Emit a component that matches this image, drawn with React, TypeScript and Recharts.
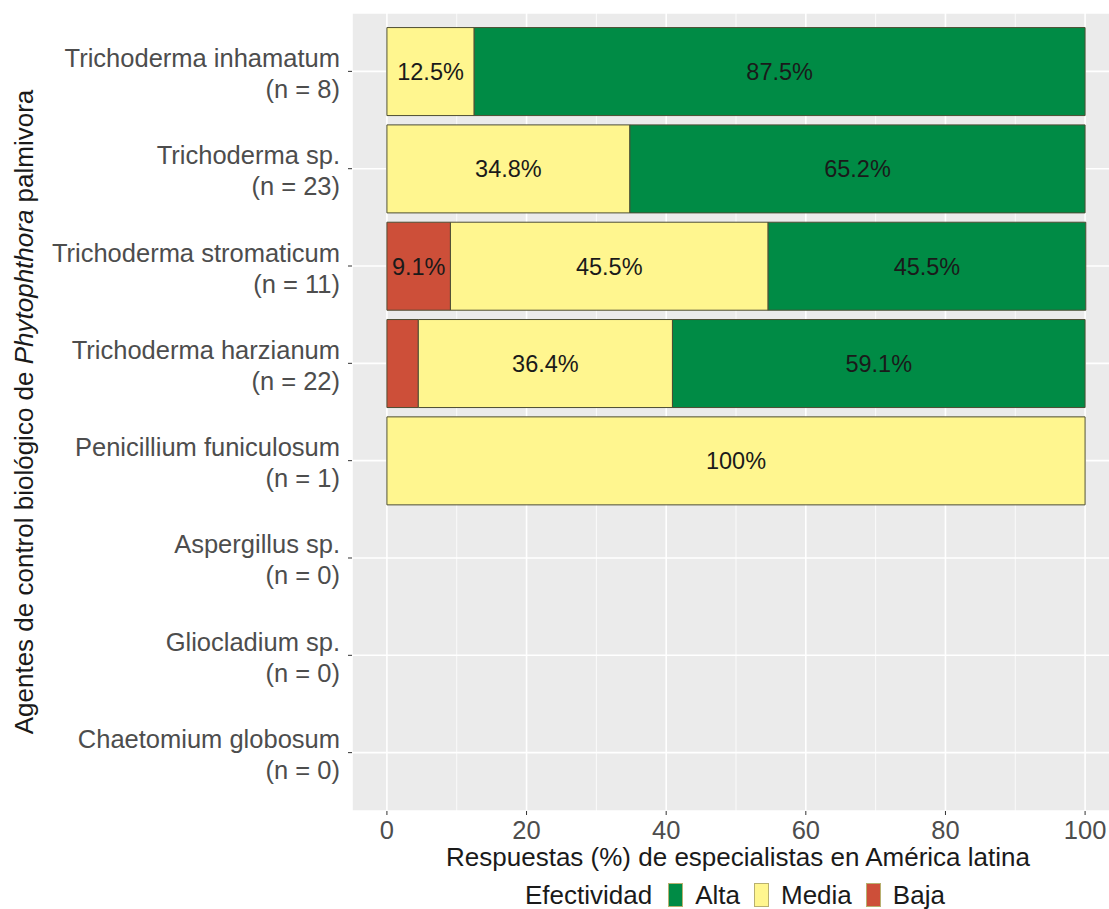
import { BarChart, Bar, XAxis, YAxis, CartesianGrid, LabelList } from "recharts"

const agents = [
  "Trichoderma inhamatum",
  "Trichoderma sp.",
  "Trichoderma stromaticum",
  "Trichoderma harzianum",
  "Penicillium funiculosum",
  "Aspergillus sp.",
  "Gliocladium sp.",
  "Chaetomium globosum",
]
const counts = [8, 23, 11, 22, 1, 0, 0, 0]
const baja = [0, 0, 9.1, 4.5, 0, 0, 0, 0]
const media = [12.5, 34.8, 45.5, 36.4, 100, 0, 0, 0]
const alta = [87.5, 65.2, 45.5, 59.1, 0, 0, 0, 0]
const xTicks = [0, 20, 40, 60, 80, 100]
const minorTicks = [10, 30, 50, 70, 90]

const levels = [
  { key: "Alta", color: "#008B45" },
  { key: "Media", color: "#FFF68F" },
  { key: "Baja", color: "#CD4F39" },
]

const data = agents.map((name, i) => ({
  name,
  n: counts[i],
  Baja: baja[i],
  Media: media[i],
  Alta: alta[i],
}))

const FONT = '"Liberation Sans", Arial, sans-serif'

function AgentTick(props: any) {
  const { x, y, payload, index } = props
  return (
    <g>
      <text x={x} y={y - 4.5} textAnchor="end" fontSize={25.5} fill="#4D4D4D" fontFamily={FONT}>
        {payload.value}
      </text>
      <text x={x} y={y + 26.5} textAnchor="end" fontSize={25.5} fill="#4D4D4D" fontFamily={FONT}>
        {`(n = ${counts[index]})`}
      </text>
    </g>
  )
}

const pct = (v: any) => (v > 5 ? `${v}%` : "")

export default function App() {
  return (
    <div
      style={{
        position: "fixed",
        left: 0,
        top: 0,
        width: 1109,
        height: 909,
        overflow: "hidden",
        background: "#fff",
        fontFamily: FONT,
      }}
    >
      <BarChart
        width={1130}
        height={909}
        data={data}
        layout="vertical"
        barCategoryGap="5%"
        margin={{ top: 13, right: 10, left: 0, bottom: 58 }}
      >
        <CartesianGrid fill="#EBEBEB" stroke="#FFFFFF" strokeWidth={1.6} />
        <CartesianGrid
          horizontal={false}
          verticalValues={minorTicks}
          stroke="#FFFFFF"
          strokeWidth={0.8}
          fill="none"
        />
        <XAxis
          type="number"
          domain={[-5, 105]}
          ticks={xTicks}
          allowDataOverflow
          height={40}
          axisLine={false}
          tickSize={4}
          tickLine={{ stroke: "#333333" }}
          tick={{ fontSize: 25.5, fill: "#4D4D4D", fontFamily: FONT, dy: 4 }}
          label={{
            content: (p: any) => {
              const vb = p.viewBox
              return (
                <text
                  x={vb.x + vb.width / 2 + 2}
                  y={vb.y + vb.height + 15}
                  textAnchor="middle"
                  fontSize={26}
                  fill="#1A1A1A"
                  fontFamily={FONT}
                >
                  Respuestas (%) de especialistas en América latina
                </text>
              )
            },
          }}
        />
        <YAxis
          type="category"
          dataKey="name"
          width={352}
          padding={{ top: 9.7, bottom: 9.7 }}
          axisLine={false}
          tickSize={4}
          tickMargin={8}
          tickLine={{ stroke: "#333333" }}
          tick={<AgentTick />}
          label={{
            content: () => (
              <text
                x={33}
                y={412}
                textAnchor="middle"
                fontSize={26}
                fill="#1A1A1A"
                fontFamily={FONT}
                transform="rotate(-90, 33, 412)"
              >
                Agentes de control biológico de <tspan fontStyle="italic">Phytophthora</tspan> palmivora
              </text>
            ),
          }}
        />
        <Bar dataKey="Baja" stackId="a" fill="#CD4F39" stroke="#4D4D33" strokeWidth={1} isAnimationActive={false}>
          <LabelList dataKey="Baja" position="center" formatter={pct} fontSize={23.5} fill="#1A1A1A" fontFamily={FONT} />
        </Bar>
        <Bar dataKey="Media" stackId="a" fill="#FFF68F" stroke="#4D4D33" strokeWidth={1} isAnimationActive={false}>
          <LabelList dataKey="Media" position="center" formatter={pct} fontSize={23.5} fill="#1A1A1A" fontFamily={FONT} />
        </Bar>
        <Bar dataKey="Alta" stackId="a" fill="#008B45" stroke="#4D4D33" strokeWidth={1} isAnimationActive={false}>
          <LabelList dataKey="Alta" position="center" formatter={pct} fontSize={23.5} fill="#1A1A1A" fontFamily={FONT} />
        </Bar>
      </BarChart>
      <div
        style={{
          position: "absolute",
          left: 525,
          top: 880,
          display: "flex",
          alignItems: "flex-start",
          fontSize: 26,
          color: "#1A1A1A",
          lineHeight: "30px",
          whiteSpace: "nowrap",
        }}
      >
        <span style={{ marginRight: 16 }}>Efectividad</span>
        {levels.map((l) => (
          <span key={l.key} style={{ display: "flex", alignItems: "flex-start", marginRight: 14 }}>
            <span
              style={{
                display: "inline-block",
                width: 15,
                height: 24,
                marginTop: 3,
                marginRight: 12,
                background: l.color,
                border: "1px solid #B8B070",
                boxSizing: "border-box",
              }}
            />
            {l.key}
          </span>
        ))}
      </div>
    </div>
  )
}
